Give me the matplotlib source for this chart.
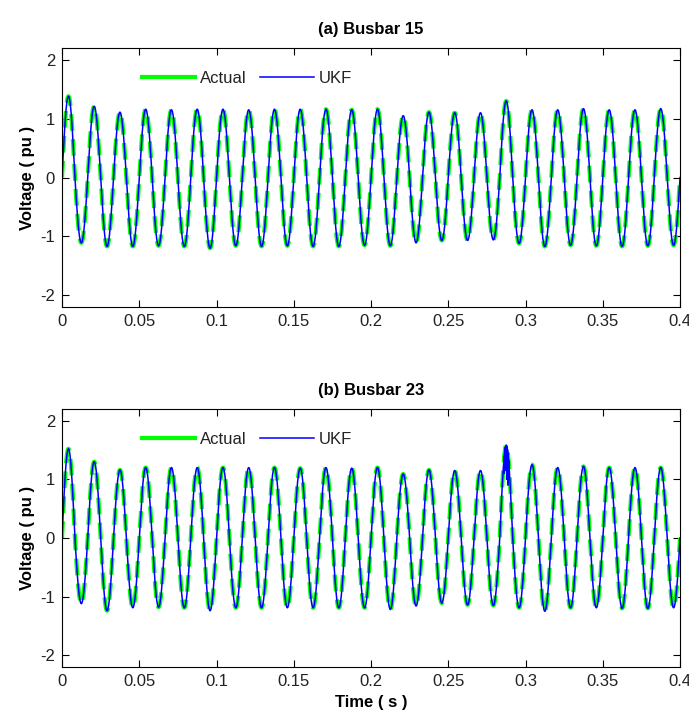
import numpy as np
import matplotlib
matplotlib.use("Agg")
import matplotlib.pyplot as plt
from matplotlib.lines import Line2D

plt.rcParams['font.family'] = ['Liberation Sans', 'DejaVu Sans']

freq = 60.0
t_end = 0.4

# peak / trough value of every cycle
peaks_a = [1.38, 1.21, 1.11, 1.16, 1.15, 1.16, 1.16, 1.15, 1.16, 1.16, 1.16, 1.15,
           1.16, 1.05, 1.11, 1.10, 1.10, 1.30, 1.15, 1.15, 1.17, 1.15, 1.15, 1.17]
troughs_a = [-1.11, -1.17, -1.17, -1.16, -1.17, -1.20, -1.16, -1.17, -1.16, -1.17, -1.17, -1.15,
             -1.16, -1.11, -1.07, -1.07, -1.06, -1.12, -1.17, -1.15, -1.16, -1.17, -1.16, -1.15]

peaks_b = [1.52, 1.30, 1.16, 1.20, 1.20, 1.20, 1.20, 1.20, 1.20, 1.19, 1.20, 1.19,
           1.20, 1.09, 1.16, 1.15, 1.15, 1.58, 1.25, 1.20, 1.22, 1.20, 1.20, 1.20]
troughs_b = [-1.12, -1.24, -1.19, -1.18, -1.19, -1.24, -1.19, -1.19, -1.19, -1.19, -1.19, -1.19,
             -1.22, -1.16, -1.11, -1.14, -1.15, -1.19, -1.25, -1.19, -1.19, -1.20, -1.20, -1.19]

# UKF glitch near the disturbance at ~0.287 s (busbar 23)
glitch_t_b = [0.2862, 0.2866, 0.2870, 0.2874, 0.2878, 0.2882, 0.2886, 0.2890]
glitch_v_b = [1.10, 1.40, 1.15, 1.50, 1.00, 1.30, 0.90, 1.15]

titles = ["(a) Busbar 15", "(b) Busbar 23"]
xticks = [0, 0.05, 0.1, 0.15, 0.2, 0.25, 0.3, 0.35, 0.4]
xticklabels = ["0", "0.05", "0.1", "0.15", "0.2", "0.25", "0.3", "0.35", "0.4"]
yticks = [-2, -1, 0, 1, 2]


def wave(peaks, troughs, t):
    amps = []
    for p, q in zip(peaks, troughs):
        amps.append(p)
        amps.append(-q)
    amps = np.array(amps)
    th = 2 * np.pi * freq * t
    k = np.clip(np.floor(th / np.pi).astype(int), 0, len(amps) - 1)
    return amps[k] * np.sin(th)


t = np.linspace(0, t_end, 4001)

fig = plt.figure(figsize=(6.89, 7.13), dpi=100)
ax1 = fig.add_axes([0.090, 0.5694, 0.897, 0.3633])
ax2 = fig.add_axes([0.090, 0.0645, 0.897, 0.3620])

series = [(peaks_a, troughs_a, [], []), (peaks_b, troughs_b, glitch_t_b, glitch_v_b)]

for ax, (pk, tr, gt, gv), title in zip([ax1, ax2], series, titles):
    y_act = wave(pk, tr, t)
    y_ukf = y_act.copy()
    tu = t
    if gt:
        tu = np.concatenate([t, gt])
        y_ukf = np.concatenate([y_ukf, gv])
        order = np.argsort(tu, kind="stable")
        tu = tu[order]
        y_ukf = y_ukf[order]
    ax.plot(t, y_act, color="#00ff00", linewidth=3.0, linestyle=(0, (4, 2)))
    ax.plot(tu, y_ukf, color="#0000ff", linewidth=1.1)

    ax.set_xlim(0, 0.4)
    ax.set_ylim(-2.2, 2.2)
    ax.set_xticks(xticks)
    ax.set_xticklabels(xticklabels)
    ax.set_yticks(yticks)
    ax.set_yticklabels([str(v) for v in yticks])
    ax.tick_params(direction="in", top=True, right=True, length=5, labelsize=12, pad=5,
                   labelcolor="#222222")
    ax.set_ylabel("Voltage ( pu )", fontsize=12, fontweight="bold", labelpad=4)
    ax.set_title(title, fontsize=12, fontweight="bold", pad=10)

    handles = [Line2D([], [], color="#00ff00", linewidth=3.0),
               Line2D([], [], color="#0000ff", linewidth=1.1)]
    ax.legend(handles, ["Actual", "UKF"], loc="upper left", bbox_to_anchor=(0.105, 0.97),
              ncol=2, frameon=False, fontsize=12, handlelength=3.2, handletextpad=0.3,
              columnspacing=0.8, labelcolor="#222222")

ax2.set_xlabel("Time ( s )", fontsize=12, fontweight="bold", labelpad=4)

fig.savefig("out.png", dpi=100)
